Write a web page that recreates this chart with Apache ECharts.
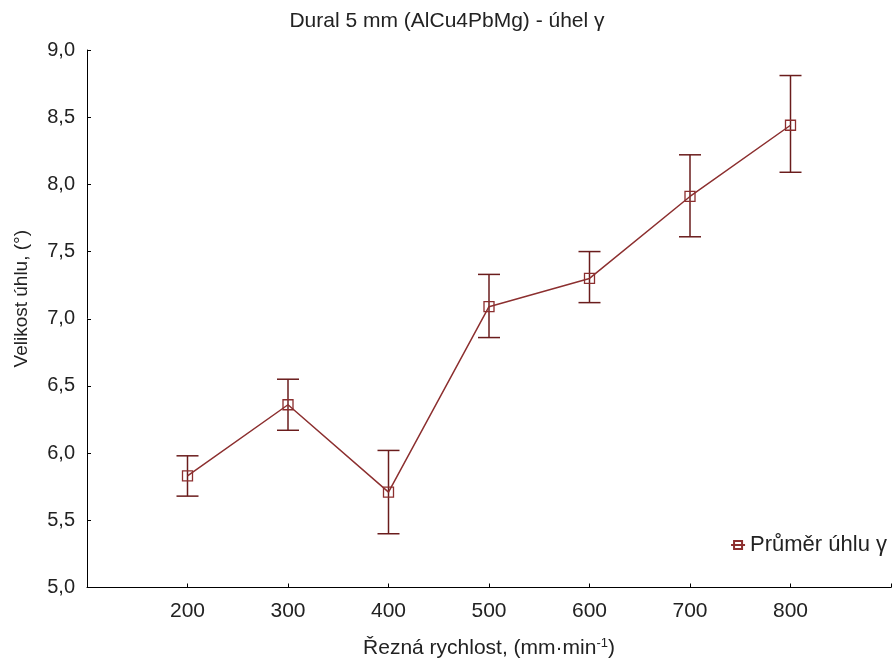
<!DOCTYPE html>
<html>
<head>
<meta charset="utf-8">
<script src="https://cdn.jsdelivr.net/npm/echarts@6/dist/echarts.min.js"></script>
<style>
  html, body { margin: 0; padding: 0; background: #fff; }
  #chart { width: 894px; height: 664px; }
</style>
</head>
<body>
<div id="chart"></div>
<script>
// rezna rychlost (mm/min)
const speeds = [200, 300, 400, 500, 600, 700, 800];
// prumer uhlu gamma
const means = [5.83, 6.36, 5.71, 7.09, 7.30, 7.91, 8.44];
// error bar ends
const lower = [5.68, 6.17, 5.40, 6.86, 7.12, 7.61, 8.09];
const upper = [5.98, 6.55, 6.02, 7.33, 7.50, 8.22, 8.81];
const yTicks = [5.0, 5.5, 6.0, 6.5, 7.0, 7.5, 8.0, 8.5, 9.0];

const lineColor = "#8c2f2f";
const barColor = "#6a1c1c";
const font = "Liberation Sans, Arial, sans-serif";

const chart = echarts.init(document.getElementById("chart"));

chart.setOption({
  animation: false,
  title: {
    text: "Dural 5 mm (AlCu4PbMg) - úhel γ",
    left: "center",
    top: 6,
    padding: [5, 0, 5, 18],
    textStyle: { fontFamily: font, fontSize: 21, fontWeight: "normal", color: "#222" },
  },
  legend: {
    data: ["Průměr úhlu γ"],
    right: 2,
    top: 529,
    itemWidth: 14,
    itemHeight: 10,
    itemGap: 6,
    textStyle: { fontFamily: font, fontSize: 22, color: "#222" },
  },
  grid: { left: 87, right: -4, top: 50, bottom: 76 },
  xAxis: {
    type: "value",
    min: 100,
    max: 900,
    interval: 100,
    name: "Řezná rychlost, (mm·min{sup|-1})",
    nameLocation: "middle",
    nameGap: 49,
    nameTextStyle: {
      fontFamily: font,
      fontSize: 21,
      color: "#222",
      rich: { sup: { fontFamily: font, fontSize: 13, color: "#222", padding: [0, 0, 11, 0] } },
    },
    axisLine: { lineStyle: { color: "#000", width: 1 } },
    axisTick: { inside: true, length: 4, lineStyle: { color: "#000" } },
    axisLabel: {
      margin: 13,
      fontFamily: font,
      fontSize: 21,
      color: "#222",
      formatter: (v) => (speeds.includes(v) ? String(v) : ""),
    },
    splitLine: { show: false },
  },
  yAxis: {
    type: "value",
    min: yTicks[0],
    max: yTicks[yTicks.length - 1],
    interval: 0.5,
    name: "Velikost úhlu, (°)",
    nameLocation: "middle",
    nameRotate: 90,
    nameGap: 56,
    nameTextStyle: { fontFamily: font, fontSize: 19, color: "#222", padding: [0, 0, 0, 40] },
    axisLine: { show: true, lineStyle: { color: "#000", width: 1 } },
    axisTick: { show: true, inside: true, length: 4, lineStyle: { color: "#000" } },
    axisLabel: {
      margin: 12,
      fontFamily: font,
      fontSize: 20,
      color: "#222",
      formatter: (v) => v.toFixed(1).replace(".", ","),
    },
    splitLine: { show: false },
  },
  series: [
    {
      name: "Průměr úhlu γ",
      type: "line",
      data: speeds.map((s, i) => [s, means[i]]),
      symbol: "rect",
      symbolSize: 10,
      lineStyle: { color: lineColor, width: 1.5 },
      itemStyle: { color: "rgba(255,255,255,0)", borderColor: lineColor, borderWidth: 1.3 },
      z: 3,
    },
    {
      name: "error",
      type: "custom",
      data: speeds.map((s, i) => [s, lower[i], upper[i]]),
      renderItem(params, api) {
        const x = api.value(0);
        const lo = api.coord([x, api.value(1)]);
        const hi = api.coord([x, api.value(2)]);
        const half = 11;
        const style = { stroke: barColor, lineWidth: 1.5 };
        return {
          type: "group",
          children: [
            { type: "line", shape: { x1: lo[0], y1: lo[1], x2: hi[0], y2: hi[1] }, style },
            { type: "line", shape: { x1: hi[0] - half, y1: hi[1], x2: hi[0] + half, y2: hi[1] }, style },
            { type: "line", shape: { x1: lo[0] - half, y1: lo[1], x2: lo[0] + half, y2: lo[1] }, style },
          ],
        };
      },
      z: 2,
    },
  ],
});
</script>
</body>
</html>
